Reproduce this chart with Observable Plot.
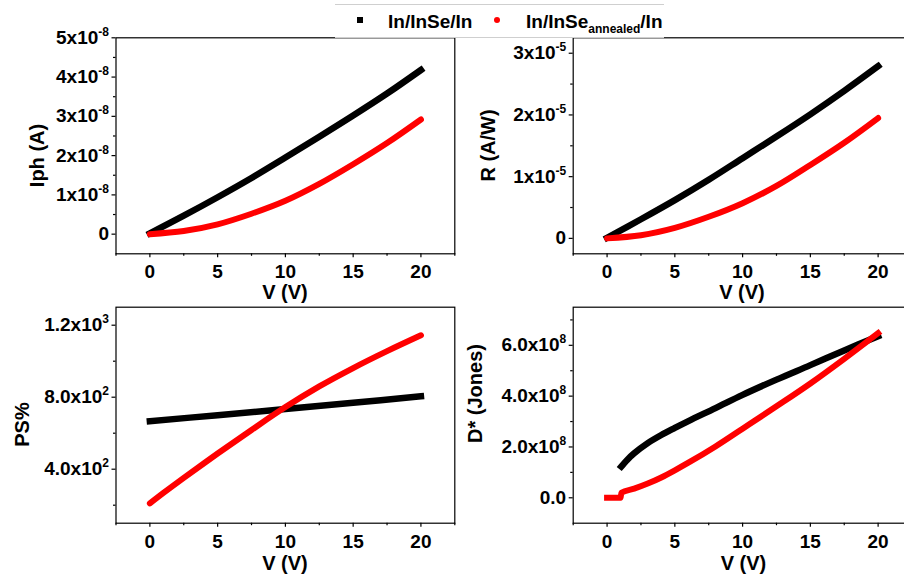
<!DOCTYPE html>
<html><head><meta charset="utf-8">
<script src="https://cdn.jsdelivr.net/npm/d3@7"></script>
<script src="https://cdn.jsdelivr.net/npm/@observablehq/plot@0.6"></script>
<style>
body{margin:0;background:#fff;}
#c{position:relative;width:904px;height:582px;overflow:hidden;font-family:"Liberation Sans",Arial,sans-serif;font-weight:bold;background:#fff;}
#c svg{position:absolute;left:0;top:0;max-width:none;background:transparent;}
#legend{position:absolute;left:335px;top:4px;width:329px;height:32px;background:#fff;border-top:1px solid #cfcfcf;border-bottom:1px solid #cfcfcf;z-index:5;font-size:19px;color:#000;}
#legend .t{position:absolute;top:6px;line-height:22px;white-space:nowrap;}
#legend sub{font-size:12px;vertical-align:-5px;line-height:0;}
</style></head><body><div id="c"></div>
<script>
// ---- data ----
const seriesNames = ["In/InSe/In", "In/InSe", "annealed", "/In"];
const vTicks = [0, 5, 10, 15, 20];
const vMinor = [-2.5, 2.5, 7.5, 12.5, 17.5, 22.5];

// Photocurrent Iph (A)
const vIph = [0, 2.5, 5, 7.5, 10, 12.5, 15, 17.5, 20];
const iphBlack = [0.02e-8, 0.47e-8, 0.94e-8, 1.43e-8, 1.95e-8, 2.48e-8, 3.02e-8, 3.58e-8, 4.18e-8];
const iphRed = [0, 0.08e-8, 0.25e-8, 0.52e-8, 0.85e-8, 1.28e-8, 1.78e-8, 2.32e-8, 2.92e-8];
const iphTicks = [0, 1e-8, 2e-8, 3e-8, 4e-8, 5e-8];
const iphTickLabels = ["0", "1x10^-8", "2x10^-8", "3x10^-8", "4x10^-8", "5x10^-8"];
const iphMinor = [0.5e-8, 1.5e-8, 2.5e-8, 3.5e-8, 4.5e-8];

// Responsivity R (A/W)
const vR = [0, 2.5, 5, 7.5, 10, 12.5, 15, 17.5, 20];
const rBlack = [0.01e-5, 0.31e-5, 0.62e-5, 0.95e-5, 1.30e-5, 1.65e-5, 2.01e-5, 2.39e-5, 2.79e-5];
const rRed = [0, 0.05e-5, 0.17e-5, 0.35e-5, 0.57e-5, 0.85e-5, 1.19e-5, 1.55e-5, 1.95e-5];
const rTicks = [0, 1e-5, 2e-5, 3e-5];
const rTickLabels = ["0", "1x10^-5", "2x10^-5", "3x10^-5"];
const rMinor = [0.5e-5, 1.5e-5, 2.5e-5];

// Photosensitivity PS%
const vPsBlack = [0, 5, 10, 15, 20];
const psBlack = [667, 700, 734, 769, 805];
const vPsRed = [0, 1, 2.5, 5, 7.5, 10, 12.5, 15, 17.5, 20];
const psRed = [210, 268, 352, 487, 618, 745, 860, 962, 1056, 1144];
const psTicks = [400, 800, 1200];
const psTickLabels = ["4.0x10^2", "8.0x10^2", "1.2x10^3"];
const psMinor = [200, 600, 1000];

// Detectivity D* (Jones)
const vDBlack = [1.05, 1.5, 2, 3, 4, 5, 6, 8, 10, 12.5, 15, 17.5, 20];
const dBlack = [1.23e8, 1.5e8, 1.75e8, 2.15e8, 2.47e8, 2.75e8, 3.02e8, 3.53e8, 4.05e8, 4.65e8, 5.22e8, 5.8e8, 6.36e8];
const vDRed = [0, 0.5, 1.0, 1.05, 2, 3, 4, 5, 6, 8, 10, 12.5, 15, 17.5, 20];
const dRed = [0, 0, 0, 0.2e8, 0.36e8, 0.56e8, 0.8e8, 1.08e8, 1.38e8, 2.02e8, 2.72e8, 3.6e8, 4.5e8, 5.47e8, 6.48e8];
const dTicks = [0, 2e8, 4e8, 6e8];
const dTickLabels = ["0.0", "2.0x10^8", "4.0x10^8", "6.0x10^8"];
const dMinor = [1e8, 3e8, 5e8, 7e8];

// ---- drawing ----
const FONT = '"Liberation Sans", Arial, sans-serif';
const W = 920, H = 582;
const pts = (xs, ys) => xs.map((v, i) => ({V: v, y: ys[i]}));

function panel(p) {
  const [l, t, r, b] = p.frame;
  const svg = Plot.plot({
    width: W, height: H,
    marginLeft: l, marginTop: t, marginRight: W - r, marginBottom: H - b,
    x: {domain: [-2.5, 22.5]},
    y: {domain: p.yDomain},
    style: {background: "transparent", fontFamily: FONT, fontWeight: "bold", fontSize: "19px", overflow: "visible", color: "black"},
    marks: [
      Plot.frame({stroke: "black", strokeWidth: 1.2}),
      Plot.axisX(vMinor, {tickSize: 2.5, fill: "none", tickFormat: () => "", label: null, strokeWidth: 1.2}),
      Plot.axisX(vTicks, {tickSize: 4, tickPadding: 7, label: null, strokeWidth: 1.2, fontSize: 19, tickFormat: d => String(d)}),
      Plot.axisY(p.yMinor, {tickSize: 2.5, fill: "none", tickFormat: () => "", label: null, strokeWidth: 1.2}),
      Plot.axisY(p.yTicks, {tickSize: 4, tickPadding: 3, label: null, strokeWidth: 1.2, fontSize: 19,
        tickFormat: d => p.yLabels[p.yTicks.indexOf(d)]}),
      Plot.line(p.black, {x: "V", y: "y", stroke: "black", strokeWidth: 6.5, curve: "catmull-rom", strokeLinecap: "square"}),
      Plot.line(p.red, {x: "V", y: "y", stroke: "#ff0000", strokeWidth: 6, curve: p.redCurve || "catmull-rom", strokeLinecap: p.redCap || "round"}),
      Plot.text([p.yTitle], {frameAnchor: "top-left", dx: p.yPos[0] - l, dy: p.yPos[1] - t, rotate: -90,
        fontSize: 20, fontWeight: "bold", fill: "black", textAnchor: "middle", lineAnchor: "middle"}),
      Plot.text(["V (V)"], {frameAnchor: "top-left", dx: p.xPos[0] - l, dy: p.xPos[1] - t,
        fontSize: 20, fontWeight: "bold", fill: "black", textAnchor: "middle", lineAnchor: "middle"})
    ]
  });
  // superscript exponents
  const ns = "http://www.w3.org/2000/svg";
  svg.querySelectorAll("text").forEach(el => {
    const s = el.textContent;
    const i = s.indexOf("^");
    if (i < 0) return;
    el.textContent = "";
    const a = document.createElementNS(ns, "tspan");
    a.textContent = s.slice(0, i);
    const e = document.createElementNS(ns, "tspan");
    e.textContent = s.slice(i + 1);
    e.setAttribute("font-size", "12");
    e.setAttribute("dy", "-8");
    el.appendChild(a); el.appendChild(e);
  });
  return svg;
}

const c = document.getElementById("c");
c.appendChild(panel({
  frame: [115.5, 37.3, 454.3, 253.3], yDomain: [-0.5e-8, 5e-8],
  yTicks: iphTicks, yLabels: iphTickLabels, yMinor: iphMinor,
  black: pts(vIph, iphBlack), red: pts(vIph, iphRed),
  yTitle: "Iph (A)", yPos: [37, 155], xPos: [284.5, 292]
}));
c.appendChild(panel({
  frame: [572.7, 37.3, 911.5, 253.3], yDomain: [-0.25e-5, 3.25e-5],
  yTicks: rTicks, yLabels: rTickLabels, yMinor: rMinor,
  black: pts(vR, rBlack), red: pts(vR, rRed),
  yTitle: "R (A/W)", yPos: [488, 145], xPos: [741.5, 292]
}));
c.appendChild(panel({
  frame: [115.5, 306.7, 454.3, 522.7], yDomain: [100, 1300],
  yTicks: psTicks, yLabels: psTickLabels, yMinor: psMinor,
  black: pts(vPsBlack, psBlack), red: pts(vPsRed, psRed),
  yTitle: "PS%", yPos: [22, 424], xPos: [284.5, 563]
}));
c.appendChild(panel({
  frame: [572.7, 306.7, 911.5, 522.7], yDomain: [-1e8, 7.5e8],
  yTicks: dTicks, yLabels: dTickLabels, yMinor: dMinor,
  black: pts(vDBlack, dBlack), red: pts(vDRed, dRed), redCap: "square", redCurve: "monotone-x",
  yTitle: "D* (Jones)", yPos: [475, 393], xPos: [743, 563]
}));

// legend
const lg = document.createElement("div");
lg.id = "legend";
lg.innerHTML =
  '<div style="position:absolute;left:22px;top:12px;width:6px;height:6px;background:#000"></div>' +
  '<div class="t" style="left:53px">' + seriesNames[0] + '</div>' +
  '<div style="position:absolute;left:159px;top:12px;width:6px;height:6px;border-radius:50%;background:#ff0000"></div>' +
  '<div class="t" style="left:191px">' + seriesNames[1] + '<sub>' + seriesNames[2] + '</sub>' + seriesNames[3] + '</div>';
c.appendChild(lg);
</script></body></html>
